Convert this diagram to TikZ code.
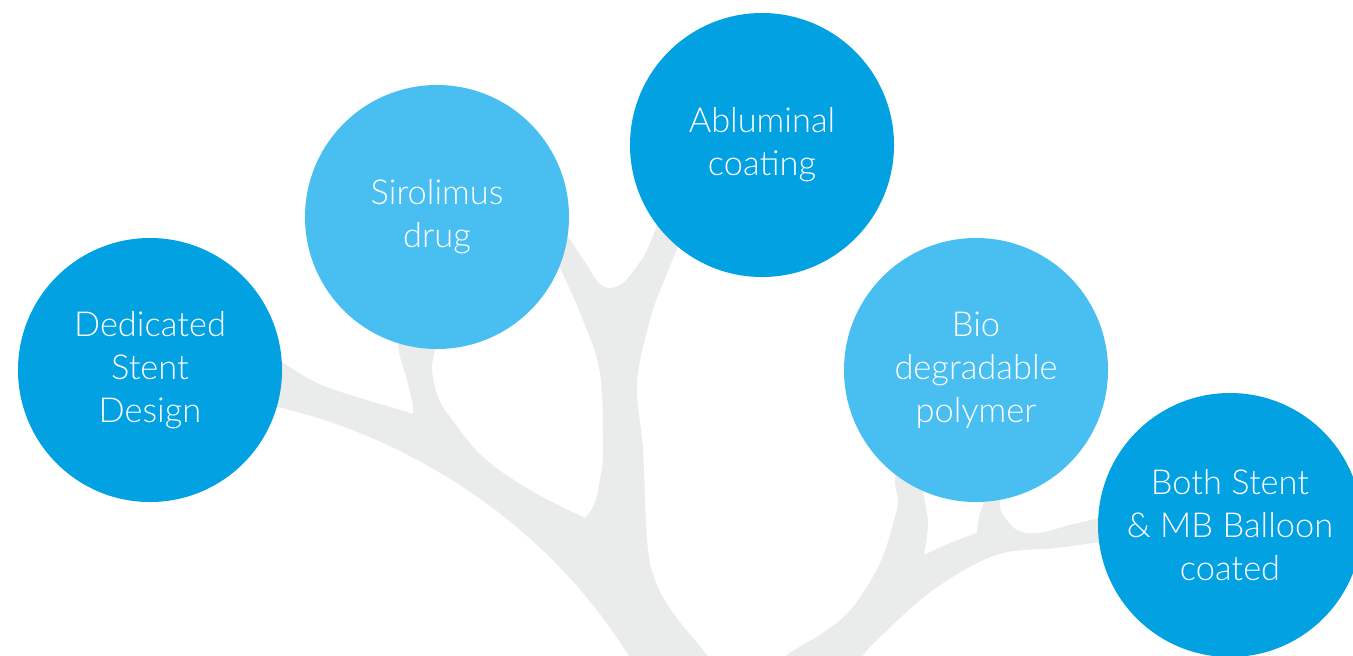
\documentclass[tikz,border=0pt]{standalone}
\usepackage{fontspec}
\setmainfont{Lato Light}
\definecolor{darkblue}{RGB}{2,161,226}
\definecolor{lightblue}{RGB}{72,191,240}
\definecolor{treegrey}{RGB}{234,235,235}
\tikzset{
  bubble/.style={circle, minimum size=132pt, inner sep=0pt, text=white, align=center,
    font=\fontsize{17.2}{21.5}\selectfont},
  darkbubble/.style={bubble, fill=darkblue},
  lightbubble/.style={bubble, fill=lightblue},
}
\begin{document}
\begin{tikzpicture}[x=0.5pt,y=-0.5pt]
\clip (0,0) rectangle (1353,655);
\fill[white] (0,0) rectangle (1353,655);
% main trunk with left branches
\fill[treegrey]
  (640,675) .. controls (562,535) and (420,440) .. (278,407)
  -- (230,400) -- (220,360)
  -- plot[smooth, tension=0.6] coordinates {(282,362) (317,383) (360,398) (404,411) (412,414) (413,406) (407,380) (398,345) (400,300)}
  -- (440,300)
  -- plot[smooth, tension=0.6] coordinates {(435,350) (432,370) (438,397) (450,417) (483,457) (530,490) (585,518)}
  -- plot[smooth, tension=0.6] coordinates {(585,518) (594,505) (600,480) (603,450) (600,373) (583,320) (560,268) (545,240)}
  -- (560,225)
  -- plot[smooth, tension=0.6] coordinates {(568,237) (585,262) (598,282) (610,288) (624,282) (638,265) (647,250) (658,223) (665,200)}
  -- (690,210)
  -- plot[smooth, tension=0.6] coordinates {(678,247) (663,283) (650,320) (637,383) (643,450) (647,540) (655,580) (673,613) (707,655) (712,665)}
  -- cycle;
% right branch
\fill[treegrey]
  plot[smooth, tension=0.6] coordinates {(782,665) (787,655) (827,630) (853,607) (880,563) (895,517) (898,500) (895,480) (900,450)}
  -- (930,460)
  -- plot[smooth, tension=0.6] coordinates {(921,485) (923,493) (928,523) (924,555)}
  -- plot[smooth, tension=0.6] coordinates {(924,555) (950,543) (977,533)}
  -- plot[smooth, tension=0.6] coordinates {(977,533) (979,517) (984,502) (986,480)}
  -- (998,480)
  -- plot[smooth, tension=0.6] coordinates {(1000,502) (1002,513) (1017,530) (1038,533) (1070,525) (1100,518)}
  -- (1130,530)
  -- plot[smooth, tension=0.6] coordinates {(1100,542) (1056,548) (996,555) (933,590) (880,637) (863,655) (855,665)}
  -- cycle;
% bubbles
\node[darkbubble]  (dsd) at (150,370)  {Dedicated\\Stent\\Design};
\node[lightbubble] (sir) at (437,217)  {Sirolimus\\drug};
\node[darkbubble]  (abl) at (762,145)  {Abluminal\\coating};
\node[lightbubble] (bio) at (976,370)  {Bio\\degradable\\polymer};
\node[darkbubble]  (bsb) at (1230,525) {Both Stent\\\& MB Balloon\\coated};
\end{tikzpicture}
\end{document}
